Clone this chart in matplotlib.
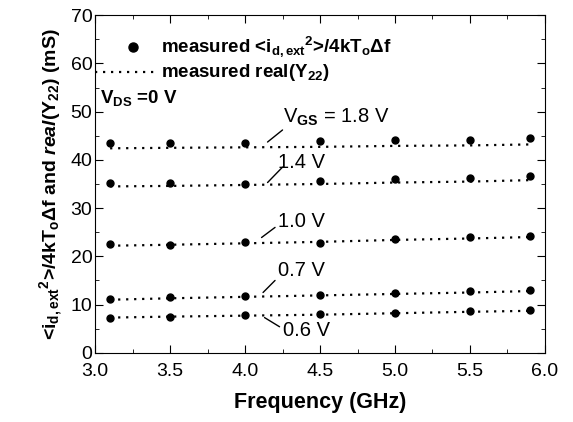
import matplotlib
matplotlib.use("Agg")
import matplotlib.pyplot as plt
from matplotlib.ticker import MultipleLocator, FormatStrFormatter

plt.rcParams["font.family"] = ["Liberation Sans", "DejaVu Sans"]
plt.rcParams["mathtext.fontset"] = "custom"
plt.rcParams["mathtext.rm"] = "Liberation Sans:bold"
plt.rcParams["mathtext.bf"] = "Liberation Sans:bold"
plt.rcParams["mathtext.it"] = "Liberation Sans:bold:italic"
plt.rcParams["mathtext.default"] = "bf"

freq = [3.1, 3.5, 4.0, 4.5, 5.0, 5.5, 5.9]

# measured <i^2>/4kTdf (points)
noise_18 = [43.5, 43.5, 43.5, 44.0, 44.2, 44.2, 44.5]
noise_14 = [35.2, 35.3, 35.0, 35.6, 36.0, 36.3, 36.7]
noise_10 = [22.5, 22.3, 23.0, 22.8, 23.5, 24.0, 24.3]
noise_07 = [11.2, 11.5, 11.8, 12.0, 12.5, 12.8, 13.0]
noise_06 = [7.3, 7.5, 7.8, 8.0, 8.3, 8.6, 8.9]

# measured real(Y22) (dotted lines)
y22_18 = [42.4, 42.5, 42.6, 42.7, 42.9, 43.0, 43.2]
y22_14 = [34.5, 34.6, 34.8, 35.0, 35.3, 35.5, 35.8]
y22_10 = [22.2, 22.4, 22.7, 23.0, 23.4, 23.7, 24.0]
y22_07 = [11.0, 11.3, 11.6, 11.9, 12.2, 12.5, 12.8]
y22_06 = [7.3, 7.5, 7.7, 7.9, 8.2, 8.5, 8.7]

noise_sets = [noise_18, noise_14, noise_10, noise_07, noise_06]
y22_sets = [y22_18, y22_14, y22_10, y22_07, y22_06]

# V_GS labels: text position, pointer start, pointer end
gs_labels = [r"V$_{GS}$ = 1.8 V", "1.4 V", "1.0 V", "0.7 V", "0.6 V"]
gs_text_xy = [(4.25, 48.9), (4.22, 39.5), (4.22, 27.2), (4.22, 17.0), (4.25, 4.6)]
gs_ptr_from = [(4.25, 46.2), (4.25, 38.5), (4.2, 26.0), (4.2, 15.0), (4.23, 5.4)]
gs_ptr_to = [(4.15, 43.7), (4.15, 35.3), (4.11, 23.9), (4.12, 12.5), (4.13, 7.3)]

fig = plt.figure(figsize=(5.73, 4.22), dpi=100)
ax = fig.add_axes([0.166, 0.164, 0.785, 0.8])

dots = (0, (1, 2.6))
for n, y in zip(noise_sets, y22_sets):
    ax.plot(freq, y, color="black", linestyle=dots, linewidth=1.6)
    ax.plot(freq, n, "o", color="black", markersize=5)

ax.set_xlim(3.0, 6.0)
ax.set_ylim(0, 70)
ax.xaxis.set_major_locator(MultipleLocator(0.5))
ax.xaxis.set_minor_locator(MultipleLocator(0.25))
ax.yaxis.set_major_locator(MultipleLocator(10))
ax.yaxis.set_minor_locator(MultipleLocator(5))
ax.xaxis.set_major_formatter(FormatStrFormatter("%.1f"))
ax.tick_params(which="both", direction="in", top=True, right=True, labelsize=14)
ax.tick_params(which="major", length=6)
ax.tick_params(which="minor", length=3)
ax.tick_params(axis="y", pad=2)
ax.tick_params(axis="x", pad=7)

ax.set_xlabel("Frequency (GHz)", fontsize=15.5, fontweight="bold", labelpad=9)
ax.set_ylabel(r"<$i_{d,ext}{}^{2}$>/4kT$_{o}\Delta$f and $\mathit{real}$(Y$_{22}$) (mS)",
              fontsize=14, fontweight="bold", labelpad=4)

# legend drawn by hand
ax.plot([3.25], [63.5], "o", color="black", markersize=6.5)
ax.text(3.44, 63.5, r"measured <$i_{d,ext}{}^{2}$>/4kT$_{o}\Delta$f", fontsize=13.5,
        fontweight="bold", va="center")
ax.plot([3.0, 3.4], [58.2, 58.2], color="black", linestyle=dots, linewidth=1.6)
ax.text(3.44, 58.2, r"measured real(Y$_{22}$)", fontsize=13.5, fontweight="bold", va="center")
ax.text(3.03, 52.8, r"V$_{DS}$ =0 V", fontsize=13.5, fontweight="bold", va="center")

# curve labels with short pointer lines
line = dict(arrowstyle="-", color="black", lw=1, shrinkA=0, shrinkB=0)
for lab, txy, p0, p1 in zip(gs_labels, gs_text_xy, gs_ptr_from, gs_ptr_to):
    ax.text(txy[0], txy[1], lab, fontsize=14.5, va="center", ha="left")
    ax.annotate("", xy=p1, xytext=p0, arrowprops=line)

fig.savefig("out.png", dpi=100)
